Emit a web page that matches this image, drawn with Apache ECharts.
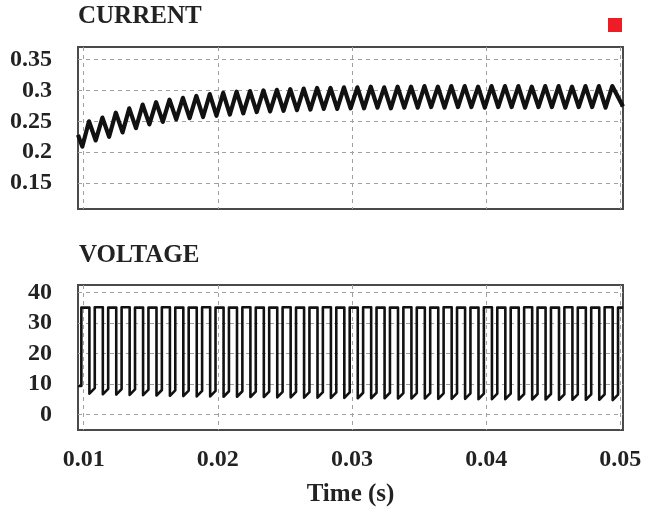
<!DOCTYPE html>
<html>
<head>
<meta charset="utf-8">
<script src="https://cdn.jsdelivr.net/npm/echarts@6/dist/echarts.min.js"></script>
<style>
  html, body { margin: 0; padding: 0; background: #fff; }
  #chart { width: 650px; height: 518px; }
</style>
</head>
<body>
<div id="chart"></div>
<script>
// time axis ticks (s)
const timeTicks = [0.01, 0.02, 0.03, 0.04, 0.05];
const currentTicks = [0.15, 0.2, 0.25, 0.3, 0.35];
const voltageTicks = [0, 10, 20, 30, 40];

// current ripple: start, trough/peak pairs, end
const currentTime = [
  0.00958,
  0.0099, 0.0104, 0.0109, 0.0114, 0.0119, 0.0124, 0.0129, 0.0134, 0.0139, 0.0144,
  0.0149, 0.0154, 0.0159, 0.0164, 0.0169, 0.0174, 0.0179, 0.0184, 0.0189, 0.0194,
  0.0199, 0.0204, 0.0209, 0.0214, 0.0219, 0.0224, 0.0229, 0.0234, 0.0239, 0.0244,
  0.0249, 0.0254, 0.0259, 0.0264, 0.0269, 0.0274, 0.0279, 0.0284, 0.0289, 0.0294,
  0.0299, 0.0304, 0.0309, 0.0314, 0.0319, 0.0324, 0.0329, 0.0334, 0.0339, 0.0344,
  0.0349, 0.0354, 0.0359, 0.0364, 0.0369, 0.0374, 0.0379, 0.0384, 0.0389, 0.0394,
  0.0399, 0.0404, 0.0409, 0.0414, 0.0419, 0.0424, 0.0429, 0.0434, 0.0439, 0.0444,
  0.0449, 0.0454, 0.0459, 0.0464, 0.0469, 0.0474, 0.0479, 0.0484, 0.0489, 0.0494,
  0.0502
];
const currentValue = [
  0.228,
  0.209, 0.250, 0.219, 0.256, 0.225, 0.264, 0.232, 0.271, 0.239, 0.277,
  0.245, 0.281, 0.249, 0.285, 0.253, 0.288, 0.255, 0.291, 0.257, 0.294,
  0.259, 0.296, 0.261, 0.298, 0.263, 0.299, 0.265, 0.300, 0.266, 0.301,
  0.267, 0.302, 0.268, 0.303, 0.269, 0.304, 0.270, 0.304, 0.270, 0.305,
  0.271, 0.305, 0.271, 0.306, 0.272, 0.305, 0.271, 0.306, 0.272, 0.306,
  0.272, 0.307, 0.273, 0.306, 0.272, 0.307, 0.273, 0.307, 0.273, 0.306,
  0.272, 0.307, 0.273, 0.307, 0.273, 0.307, 0.272, 0.306, 0.273, 0.307,
  0.273, 0.307, 0.272, 0.306, 0.273, 0.307, 0.273, 0.307, 0.272, 0.307,
  0.274
];

// voltage pulses: rising edges, falling edges, levels
const voltStart = [0.00958, 9.3];
const voltRise = [
  0.00983, 0.01083, 0.01183, 0.01283, 0.01383, 0.01483, 0.01583, 0.01683, 0.01783, 0.01883,
  0.01983, 0.02083, 0.02183, 0.02283, 0.02383, 0.02483, 0.02583, 0.02683, 0.02783, 0.02883,
  0.02983, 0.03083, 0.03183, 0.03283, 0.03383, 0.03483, 0.03583, 0.03683, 0.03783, 0.03883,
  0.03983, 0.04083, 0.04183, 0.04283, 0.04383, 0.04483, 0.04583, 0.04683, 0.04783, 0.04883,
  0.04983
];
const voltFall = [
  0.01043, 0.01143, 0.01243, 0.01343, 0.01443, 0.01543, 0.01643, 0.01743, 0.01843, 0.01943,
  0.02043, 0.02143, 0.02243, 0.02343, 0.02443, 0.02543, 0.02643, 0.02743, 0.02843, 0.02943,
  0.03043, 0.03143, 0.03243, 0.03343, 0.03443, 0.03543, 0.03643, 0.03743, 0.03843, 0.03943,
  0.04043, 0.04143, 0.04243, 0.04343, 0.04443, 0.04543, 0.04643, 0.04743, 0.04843, 0.04943
];
const voltHigh = [
  35.0, 35.1, 35.0, 35.1, 35.0, 35.0, 35.1, 35.0, 35.0, 35.1,
  35.0, 35.0, 35.1, 35.0, 35.0, 35.1, 35.0, 35.0, 35.1, 35.0,
  35.0, 35.1, 35.0, 35.0, 35.1, 35.0, 35.0, 35.1, 35.0, 35.0,
  35.1, 35.0, 35.0, 35.1, 35.0, 35.0, 35.1, 35.0, 35.0, 35.1,
  35.0
];
// low level right after the fall, and just before the next rise
const voltLowDip = [
  6.8, 6.6, 6.5, 6.4, 6.3, 6.2, 6.1, 6.0, 5.9, 5.9,
  5.8, 5.8, 5.7, 5.7, 5.6, 5.6, 5.5, 5.5, 5.4, 5.4,
  5.3, 5.3, 5.3, 5.2, 5.2, 5.2, 5.1, 5.1, 5.1, 5.0,
  5.0, 5.0, 4.9, 4.9, 4.9, 4.8, 4.8, 4.8, 4.8, 4.7
];
const voltLowEnd = [
  8.6, 8.4, 8.3, 8.2, 8.1, 8.0, 7.9, 7.8, 7.7, 7.7,
  7.6, 7.6, 7.5, 7.5, 7.4, 7.4, 7.3, 7.3, 7.2, 7.2,
  7.1, 7.1, 7.1, 7.0, 7.0, 7.0, 6.9, 6.9, 6.9, 6.8,
  6.8, 6.8, 6.7, 6.7, 6.7, 6.6, 6.6, 6.6, 6.6, 6.5
];

const currentData = currentTime.map((t, i) => [t, currentValue[i]]);

const voltageData = [voltStart];
voltRise.forEach((t, i) => {
  const before = i === 0 ? voltStart[1] : voltLowEnd[i - 1];
  voltageData.push([t, before], [t, voltHigh[i]]);
  if (i < voltFall.length) {
    voltageData.push([voltFall[i], voltHigh[i]], [voltFall[i], voltLowDip[i]]);
  } else {
    voltageData.push([0.0502, voltHigh[i]]);
  }
});

const font = "'Liberation Serif', 'Times New Roman', serif";
const textColor = "#222";
const gridLine = { show: true, lineStyle: { color: "#a0a0a0", width: 1, type: [4, 4] } };

const chart = echarts.init(document.getElementById("chart"));

const option = {
  animation: false,
  backgroundColor: "#fff",
  title: [
    {
      text: "CURRENT", left: 78, top: 4, padding: 0,
      textStyle: { fontFamily: font, fontWeight: "bold", fontSize: 25, color: textColor },
    },
    {
      text: "VOLTAGE", left: 79, top: 243, padding: 0,
      textStyle: { fontFamily: font, fontWeight: "bold", fontSize: 25, color: textColor },
    },
  ],
  graphic: [
    { type: "rect", left: 608, top: 18, shape: { width: 14, height: 14 }, style: { fill: "#ee1c25" } },
  ],
  grid: [
    { left: 78, right: 27, top: 47, height: 162, show: true, borderColor: "#4a4a4a", borderWidth: 2, outerBoundsMode: "none" },
    { left: 78, right: 27, top: 285, height: 145, show: true, borderColor: "#4a4a4a", borderWidth: 2, outerBoundsMode: "none" },
  ],
  xAxis: [
    {
      type: "value", gridIndex: 0, min: 0.00958, max: 0.0502,
      axisLine: { show: false },
      axisTick: { show: false, customValues: timeTicks },
      axisLabel: { show: false, customValues: timeTicks },
      splitLine: gridLine,
    },
    {
      type: "value", gridIndex: 1, min: 0.00958, max: 0.0502,
      name: "Time (s)", nameLocation: "middle", nameGap: 52,
      nameTextStyle: { fontFamily: font, fontWeight: "bold", fontSize: 25, color: textColor },
      axisLine: { show: false },
      axisTick: { show: false, customValues: timeTicks },
      axisLabel: {
        customValues: timeTicks, margin: 18,
        fontFamily: font, fontWeight: "bold", fontSize: 24, color: textColor,
        formatter: (v) => v.toFixed(2),
      },
      splitLine: gridLine,
    },
  ],
  yAxis: [
    {
      type: "value", gridIndex: 0, min: 0.108, max: 0.3703,
      axisLine: { show: false },
      axisTick: { show: false, customValues: currentTicks },
      axisLabel: {
        customValues: currentTicks, margin: 26,
        fontFamily: font, fontWeight: "bold", fontSize: 24, color: textColor,
        formatter: (v) => String(+v.toFixed(2)),
      },
      splitLine: gridLine,
    },
    {
      type: "value", gridIndex: 1, min: -5.1, max: 42.4,
      axisLine: { show: false },
      axisTick: { show: false, customValues: voltageTicks },
      axisLabel: {
        customValues: voltageTicks, margin: 26,
        fontFamily: font, fontWeight: "bold", fontSize: 24, color: textColor,
      },
      splitLine: gridLine,
    },
  ],
  series: [
    {
      name: "Current", type: "line", xAxisIndex: 0, yAxisIndex: 0,
      data: currentData, showSymbol: false, symbol: "none",
      lineStyle: { color: "#111", width: 4.2, join: "round" },
    },
    {
      name: "Voltage", type: "line", xAxisIndex: 1, yAxisIndex: 1,
      data: voltageData, showSymbol: false, symbol: "none",
      lineStyle: { color: "#111", width: 2.6, join: "round" },
    },
  ],
};

chart.setOption(option);

window.addEventListener("resize", () => chart.resize());
</script>
</body>
</html>
